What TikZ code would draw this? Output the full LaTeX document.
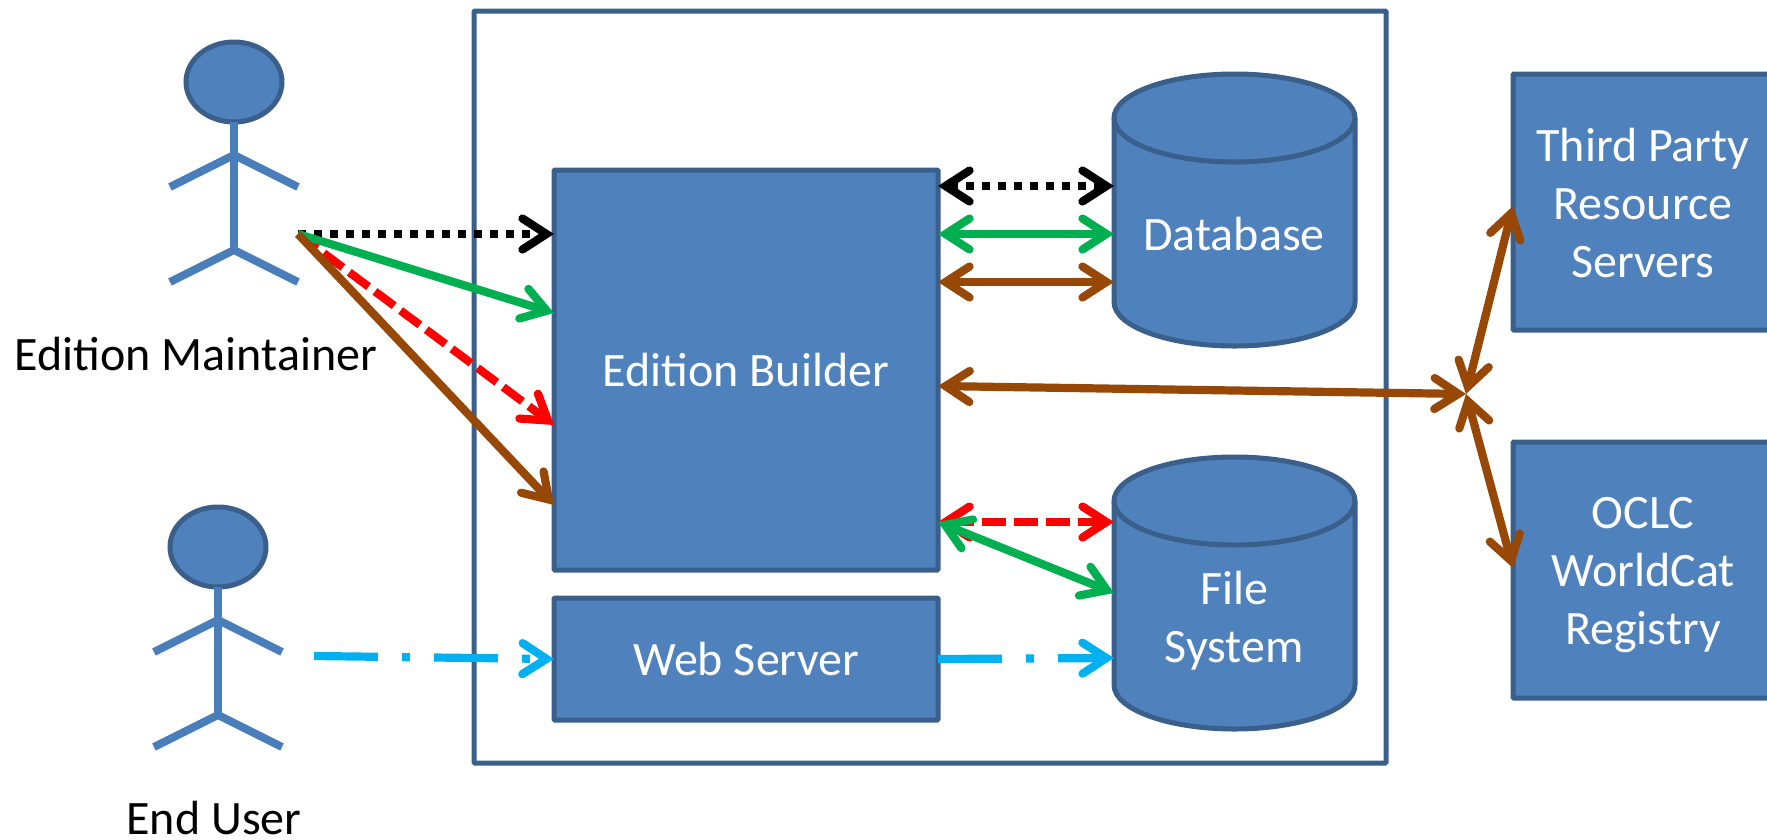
\documentclass[tikz,border=0pt]{standalone}
\usepackage{fontspec}
\setmainfont{Carlito}
\usetikzlibrary{arrows.meta,shapes.geometric,calc}
\definecolor{bfill}{HTML}{4F81BD}
\definecolor{bdraw}{HTML}{3A5F8B}
\definecolor{pline}{HTML}{4A7EBB}
\definecolor{cgreen}{HTML}{00B050}
\definecolor{cred}{HTML}{FF0000}
\definecolor{cbrown}{HTML}{974706}
\definecolor{ccyan}{HTML}{00B0F0}
\newcommand{\drumshape}[1]{%
  \path[cylpath] ([yshift=-44pt]#1.north west) -- ([yshift=44pt]#1.south west)
    arc[start angle=180,end angle=360,x radius=120.5pt,y radius=44pt]
    -- ([yshift=-44pt]#1.north east)
    arc[start angle=0,end angle=180,x radius=120.5pt,y radius=44pt] -- cycle;
  \path[cylpath,fill=none] ([yshift=-44pt]#1.north west)
    arc[start angle=180,end angle=360,x radius=120.5pt,y radius=44pt];
}
\tikzset{
  x=1pt,y=-1pt,
  boxnode/.style={draw=bdraw,fill=bfill,line width=5pt,rounded corners=1pt,inner sep=0pt,outer sep=0pt,text=white,font=\fontsize{48}{58}\selectfont,align=center},
  cylpath/.style={draw=bdraw,fill=bfill,line width=5pt,line join=round},
  cylframe/.style={rectangle,inner sep=0pt,outer sep=0pt,minimum width=241pt,minimum height=272pt},
  cyltext/.style={text=white,font=\fontsize{48}{58}\selectfont,align=center,inner sep=0pt},
  head/.style={ellipse,draw=bdraw,fill=bfill,line width=5pt,inner sep=0pt,outer sep=0pt},
  limb/.style={draw=pline,line width=8pt},
  actorlabel/.style={font=\fontsize{48}{58}\selectfont,text=black,inner sep=0pt},
  conn/.style={line width=8.2pt,{Straight Barb[length=24pt,width=31pt,line cap=round,line join=miter]}-{Straight Barb[length=24pt,width=31pt,line cap=round,line join=miter]}},
  toarrow/.style={line width=8.2pt,-{Straight Barb[length=24pt,width=31pt,line cap=round,line join=miter]}},
  dotline/.style={dash pattern=on 8pt off 8pt},
  redline/.style={dash pattern=on 24pt off 8pt},
  cyanline/.style={dash pattern=on 64pt off 24pt on 8pt off 24pt},
}
\begin{document}
\begin{tikzpicture}
\useasboundingbox (0,0) rectangle (1767,839);
% container
\node[draw=bdraw,line width=5pt,rounded corners=1pt,minimum width=912pt,minimum height=752pt,inner sep=0pt,outer sep=0pt] (sys) at (930,387) {};
% main boxes
\node[boxnode,minimum width=384pt,minimum height=400pt] (eb) at (746,370) {Edition Builder};
\node[boxnode,minimum width=384pt,minimum height=122pt] (ws) at (746,659) {Web Server};
\node[boxnode,minimum width=260pt,minimum height=256pt] (tp) at (1643,202) {\rule{0pt}{35pt}Third Party\\Resource\\Servers};
\node[boxnode,minimum width=260pt,minimum height=256pt] (oc) at (1643,570) {\rule{0pt}{42pt}OCLC\\WorldCat\\Registry};
% cylinders
\node[cylframe] (db) at (1234.5,210) {};
\node[cylframe] (fs) at (1234.5,593) {};
\drumshape{db}
\drumshape{fs}
\node[cyltext] (dbt) at (1234,234) {Database};
\node[cyltext] (fst) at (1234,621) {File\\System};
% maintainer
\node[head,minimum width=96pt,minimum height=80pt] (h1) at (234,82) {};
\coordinate (s1) at (234,155);
\coordinate (c1) at (234,250);
\coordinate (al1) at (170,187);
\coordinate (ar1) at (298,187);
\coordinate (ll1) at (170,282);
\coordinate (lr1) at (298,282);
\draw[limb] (h1.south) -- (234,254);
\draw[limb] (al1) -- (s1) -- (ar1);
\draw[limb] (ll1) -- (c1) -- (lr1);
\node[actorlabel] (l1) at (196,354) {Edition Maintainer};
% end user
\node[head,minimum width=96pt,minimum height=80pt] (h2) at (218,547) {};
\coordinate (s2) at (218,620);
\coordinate (c2) at (218,715);
\coordinate (al2) at (154,652);
\coordinate (ar2) at (282,652);
\coordinate (ll2) at (154,747);
\coordinate (lr2) at (282,747);
\draw[limb] (h2.south) -- (218,719);
\draw[limb] (al2) -- (s2) -- (ar2);
\draw[limb] (ll2) -- (c2) -- (lr2);
\node[actorlabel] (l2) at (214,818) {End User};
% free ends
\coordinate (m) at (298,234);
\coordinate (u) at (314,656);
\coordinate (j) at (1466,394);
% maintainer arrows
\draw[toarrow,dotline,black] (m) -- ([yshift=-64pt]eb.north west);
\draw[toarrow,redline,cred] (m) -- ([yshift=-255pt]eb.north west);
\draw[toarrow,cgreen] (m) -- ([yshift=-143pt]eb.north west);
\draw[toarrow,cbrown] (m) -- ([yshift=-335pt]eb.north west);
% builder to database
\draw[conn,dotline,black] ([yshift=-16pt]eb.north east) -- (db.west |- 0,186);
\draw[conn,cgreen] ([yshift=-64pt]eb.north east) -- (db.west |- 0,234);
\draw[conn,cbrown] ([yshift=-112pt]eb.north east) -- (db.west |- 0,282);
% builder to file system
\draw[conn,redline,cred] ([yshift=-352pt]eb.north east) -- (fs.west |- 0,522);
\draw[conn,cgreen] ([yshift=-352pt]eb.north east) -- (fs.west |- 0,593);
% external
\draw[conn,cbrown] ([yshift=-216pt]eb.north east) -- (j);
\draw[conn,cbrown] (j) -- ([yshift=-132pt]tp.north west);
\draw[conn,cbrown] (j) -- ([yshift=-126pt]oc.north west);
% end user
\draw[toarrow,cyanline,ccyan] (u) -- (ws.west);
\draw[toarrow,cyanline,ccyan] (ws.east) -- (fs.west |- 0,658);
\end{tikzpicture}
\end{document}
